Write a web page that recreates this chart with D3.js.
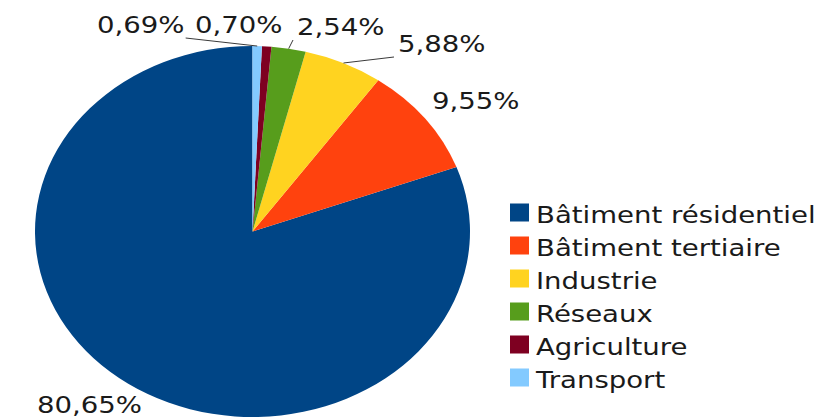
<!DOCTYPE html>
<html>
<head>
<meta charset="utf-8">
<script src="https://cdn.jsdelivr.net/npm/d3@7"></script>
<style>
  body { margin: 0; background: #fff; }
  text { font-family: "DejaVu Sans", Verdana, sans-serif; fill: #1a1a1a; }
</style>
</head>
<body>
<div id="chart"></div>
<script>
// data, in legend order
var categories = ["Bâtiment résidentiel", "Bâtiment tertiaire", "Industrie", "Réseaux", "Agriculture", "Transport"];
var shares = [80.65, 9.55, 5.88, 2.54, 0.70, 0.69];
var shareLabels = ["80,65%", "9,55%", "5,88%", "2,54%", "0,70%", "0,69%"];
var colours = ["#004586", "#ff420e", "#ffd320", "#579d1c", "#7e0021", "#83caff"];

// label placement (page pixels, left edge + baseline), and whether a leader line is drawn
var labelAt = [[37, 413], [432, 109], [398, 52], [297, 35], [195, 33], [97, 33]];
var leader = [false, false, true, true, false, true];

var width = 820, height = 419;
var sx = 217.5 / 185.5;          // the picture is stretched horizontally
var cx = 252.5, cy = 231.5, r = 185.5;
var fontSize = 23.5;

var svg = d3.select("#chart").append("svg")
    .attr("width", width)
    .attr("height", height);

var root = svg.append("g")
    .attr("transform", "scale(" + sx + ",1)");

var rows = categories.map(function(c, i) {
  return {name: c, value: shares[i], label: shareLabels[i], colour: colours[i], i: i};
});

var pie = d3.pie()
    .sort(null)
    .value(function(d) { return d.value; })
    .startAngle(2 * Math.PI)
    .endAngle(0);

var arc = d3.arc().innerRadius(0).outerRadius(r);
var arcs = pie(rows);

var pieG = root.append("g")
    .attr("transform", "translate(" + (cx / sx) + "," + cy + ")");

pieG.selectAll("path")
    .data(arcs)
  .enter().append("path")
    .attr("d", arc)
    .style("fill", function(d) { return d.data.colour; });

// measure labels so leader lines can meet their edges
var labels = root.append("g").selectAll("text")
    .data(arcs)
  .enter().append("text")
    .attr("x", function(d) { return labelAt[d.data.i][0] / sx; })
    .attr("y", function(d) { return labelAt[d.data.i][1]; })
    .style("font-size", fontSize + "px")
    .text(function(d) { return d.data.label; });

labels.each(function(d) {
  var bb = this.getBBox();
  d.box = {left: bb.x, right: bb.x + bb.width};
});

var edge = d3.arc().innerRadius(r).outerRadius(r);

root.append("g").selectAll("line")
    .data(arcs.filter(function(d) { return leader[d.data.i]; }))
  .enter().append("line")
    .each(function(d) {
      var mid = (d.startAngle + d.endAngle) / 2;
      var px = cx / sx + r * Math.sin(mid);
      var py = cy - r * Math.cos(mid);
      var base = labelAt[d.data.i][1];
      var ex, ey = base + 5;
      if (d.box.right < px) ex = d.box.right + 1;
      else ex = d.box.left - 4 / sx;
      d3.select(this)
        .attr("x1", px).attr("y1", py)
        .attr("x2", ex).attr("y2", ey);
    })
    .style("stroke", "#3a3a3a")
    .style("stroke-width", 1)
    .attr("vector-effect", "non-scaling-stroke");

// legend
var legend = root.append("g")
    .attr("transform", "translate(" + (510 / sx) + ",222.5)");

var item = legend.selectAll("g")
    .data(rows)
  .enter().append("g")
    .attr("transform", function(d, i) { return "translate(0," + (i * 33) + ")"; });

item.append("rect")
    .attr("x", 0)
    .attr("y", -19)
    .attr("width", 19 / sx)
    .attr("height", 18)
    .style("fill", function(d) { return d.colour; });

item.append("text")
    .attr("x", 26 / sx)
    .attr("y", 0)
    .style("font-size", fontSize + "px")
    .text(function(d) { return d.name; });
</script>
</body>
</html>
